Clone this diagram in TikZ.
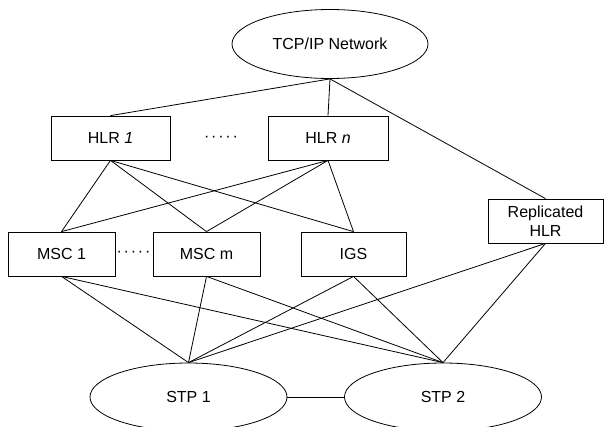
\documentclass[tikz,border=0pt]{standalone}
\usepackage{fontspec}
\setmainfont{Liberation Sans}
\usetikzlibrary{shapes.geometric}

\newcommand{\dotrow}{\textperiodcentered\kern1.8pt\textperiodcentered\kern1.8pt\textperiodcentered\kern1.8pt\textperiodcentered\kern1.8pt\textperiodcentered}

\begin{document}
\begin{tikzpicture}[x=1pt, y=-1pt,
		every node/.style={font=\fontsize{16}{18.5}\selectfont},
		net box/.style={draw, line width=0.8pt, rectangle, inner sep=0pt, minimum height=44pt, align=center},
		net cloud/.style={draw, line width=0.8pt, ellipse, inner sep=0pt},
		link/.style={line width=0.8pt},
	]
	\useasboundingbox (0,0) rectangle (604,426);

	% top network
	\node[net cloud, minimum width=196pt, minimum height=69pt] (tcp) at (330,44) {TCP/IP Network};

	% HLRs
	\node[net box, minimum width=119pt] (hlra) at (110.5,138) {HLR \textit{1}};
	\node[net box, minimum width=120pt] (hlrn) at (328,138) {HLR \textit{n}};
	\node (hlrdots) at (221,139) {\dotrow};
	\node[net box, minimum width=115pt] (rhlr) at (545.5,221) {Replicated\\HLR};

	% switches
	\node[net box, minimum width=107pt] (msca) at (61.5,254) {MSC 1};
	\node[net box, minimum width=107pt] (mscm) at (206.5,254) {MSC m};
	\node[net box, minimum width=105pt] (igs) at (353.5,254) {IGS};
	\node (mscdots) at (133.5,254) {\dotrow};

	% signalling points
	\node[net cloud, minimum width=197pt, minimum height=68pt] (stpa) at (188.5,397) {STP 1};
	\node[net cloud, minimum width=197pt, minimum height=68pt] (stpb) at (443,397) {STP 2};

	\draw[link] (tcp.south) -- (hlra.north);
	\draw[link] (tcp.south) -- (hlrn.north);
	\draw[link] (tcp.south) -- (rhlr.north);

	\foreach \h in {hlra,hlrn}
		\foreach \m in {msca,mscm,igs}
			\draw[link] (\h.south) -- (\m.north);

	\foreach \m in {msca,mscm,igs,rhlr}
		\foreach \s in {stpa,stpb}
			\draw[link] (\m.south) -- (\s.north);

	\draw[link] (stpa.east) -- (stpb.west);
\end{tikzpicture}
\end{document}
